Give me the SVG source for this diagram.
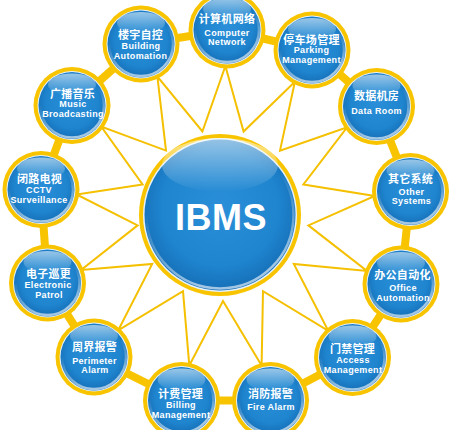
<svg xmlns="http://www.w3.org/2000/svg" width="450" height="430" viewBox="0 0 450 430">
<defs>
<radialGradient id="blue" cx="50%" cy="45%" r="55%">
<stop offset="0" stop-color="#2a8fd8"/>
<stop offset="0.7" stop-color="#1f85cf"/>
<stop offset="1" stop-color="#156fb7"/>
</radialGradient>
<linearGradient id="gloss" x1="0" y1="0" x2="0" y2="1">
<stop offset="0" stop-color="#ffffff" stop-opacity="0.55"/>
<stop offset="1" stop-color="#ffffff" stop-opacity="0"/>
</linearGradient>
<linearGradient id="rimlight" x1="0" y1="0" x2="0.3" y2="1">
<stop offset="0.45" stop-color="#ffffff" stop-opacity="0"/>
<stop offset="1" stop-color="#ffffff" stop-opacity="0.6"/>
</linearGradient>
<style>
.ring{fill:#f8c400}
.rim{fill:#e6f2fb}
.ball{fill:url(#blue)}
.gl{fill:url(#gloss)}
.rl{fill:none;stroke:url(#rimlight);stroke-width:2.5}
.cn{font-family:"Liberation Sans","Noto Sans CJK SC",sans-serif;font-weight:700;font-size:11px;fill:#fff;text-anchor:middle;letter-spacing:0.3px}
.en{font-family:"Liberation Sans",Arial,sans-serif;font-weight:700;font-size:9px;fill:#fff;text-anchor:middle;letter-spacing:0.35px}
.band{fill:none;stroke:#f8c400;stroke-width:8;stroke-linejoin:round}
.star{fill:none;stroke:#f5c000;stroke-width:2;stroke-linejoin:miter}
</style>
</defs>
<rect width="450" height="430" fill="#fff"/>
<g id="connectors">
<polygon class="band" points="227,30 312,50 376.5,106.5 410.5,191.5 401,284 352.5,357.5 270.5,400.5 181.5,400.5 94,357 47.5,283 41,189.5 72,105.5 141,44"/>
<polygon class="star" points="225.4,66 243.6,131.5 294.9,81.7 280,150.6 347.1,127.3 303.4,184.5 374.8,196 308.4,225.4 367,271 293.8,263.9 328.3,330.9 263,291.2 261.6,365.6 223,301 189.3,365.4 183,291.2 118.2,330.4 152.2,263.9 81.1,270 137.6,225.4 76.6,194.5 142.6,184.5 101.2,126.6 166,150.6 157.4,76.5 202.4,131.5"/>
</g>
<g id="ibms">
<circle class="ring" cx="220" cy="215" r="81"/>
<circle class="rim" cx="220" cy="215" r="77"/>
<circle class="ball" cx="220" cy="215" r="75.5"/>
<ellipse class="gl" cx="220" cy="165" rx="58" ry="27"/>
<circle class="rl" cx="220" cy="215" r="73.5"/>
<text x="221" y="230" style="font-family:'Liberation Sans',Arial,sans-serif;font-weight:700;font-size:36px;fill:#fff;text-anchor:middle;letter-spacing:0.5px">IBMS</text>
</g>
<g id="n-computer">
<circle class="ring" cx="227" cy="30" r="38.5"/><circle class="rim" cx="227" cy="30" r="34.5"/><circle class="ball" cx="227" cy="30" r="33.5"/><ellipse class="gl" cx="227" cy="9" rx="24" ry="11"/><circle class="rl" cx="227" cy="30" r="32"/>
<text class="cn" x="227" y="22.5">计算机网络</text><text class="en" x="227" y="35.8">Computer</text><text class="en" x="227" y="44.8">Network</text>
</g>
<g id="n-parking">
<circle class="ring" cx="312" cy="50" r="38.5"/><circle class="rim" cx="312" cy="50" r="34.5"/><circle class="ball" cx="312" cy="50" r="33.5"/><ellipse class="gl" cx="312" cy="29" rx="24" ry="11"/><circle class="rl" cx="312" cy="50" r="32"/>
<text class="cn" x="311.5" y="43.5">停车场管理</text><text class="en" x="311.5" y="53.2">Parking</text><text class="en" x="311.5" y="63.2">Management</text>
</g>
<g id="n-dataroom">
<circle class="ring" cx="376.5" cy="106.5" r="38.5"/><circle class="rim" cx="376.5" cy="106.5" r="34.5"/><circle class="ball" cx="376.5" cy="106.5" r="33.5"/><ellipse class="gl" cx="376.5" cy="85.5" rx="24" ry="11"/><circle class="rl" cx="376.5" cy="106.5" r="32"/>
<text class="cn" x="376.5" y="100">数据机房</text><text class="en" x="376.5" y="113.8">Data Room</text>
</g>
<g id="n-other">
<circle class="ring" cx="410.5" cy="191.5" r="38.5"/><circle class="rim" cx="410.5" cy="191.5" r="34.5"/><circle class="ball" cx="410.5" cy="191.5" r="33.5"/><ellipse class="gl" cx="410.5" cy="170.5" rx="24" ry="11"/><circle class="rl" cx="410.5" cy="191.5" r="32"/>
<text class="cn" x="410.5" y="182.5">其它系统</text><text class="en" x="411.5" y="194.8">Other</text><text class="en" x="411.5" y="203.8">Systems</text>
</g>
<g id="n-office">
<circle class="ring" cx="401" cy="284" r="38.5"/><circle class="rim" cx="401" cy="284" r="34.5"/><circle class="ball" cx="401" cy="284" r="33.5"/><ellipse class="gl" cx="401" cy="263" rx="24" ry="11"/><circle class="rl" cx="401" cy="284" r="32"/>
<text class="cn" x="402.5" y="278.5">办公自动化</text><text class="en" x="403" y="290.8">Office</text><text class="en" x="403" y="300.8">Automation</text>
</g>
<g id="n-access">
<circle class="ring" cx="352.5" cy="357.5" r="38.5"/><circle class="rim" cx="352.5" cy="357.5" r="34.5"/><circle class="ball" cx="352.5" cy="357.5" r="33.5"/><ellipse class="gl" cx="352.5" cy="336.5" rx="24" ry="11"/><circle class="rl" cx="352.5" cy="357.5" r="32"/>
<text class="cn" x="352.5" y="352.5">门禁管理</text><text class="en" x="353" y="363.2">Access</text><text class="en" x="353" y="373.2">Management</text>
</g>
<g id="n-fire">
<circle class="ring" cx="270.5" cy="400.5" r="38.5"/><circle class="rim" cx="270.5" cy="400.5" r="34.5"/><circle class="ball" cx="270.5" cy="400.5" r="33.5"/><ellipse class="gl" cx="270.5" cy="379.5" rx="24" ry="11"/><circle class="rl" cx="270.5" cy="400.5" r="32"/>
<text class="cn" x="270.5" y="397.5">消防报警</text><text class="en" x="271" y="409.8">Fire Alarm</text>
</g>
<g id="n-billing">
<circle class="ring" cx="181.5" cy="400.5" r="38.5"/><circle class="rim" cx="181.5" cy="400.5" r="34.5"/><circle class="ball" cx="181.5" cy="400.5" r="33.5"/><ellipse class="gl" cx="181.5" cy="379.5" rx="24" ry="11"/><circle class="rl" cx="181.5" cy="400.5" r="32"/>
<text class="cn" x="180.5" y="397.5">计费管理</text><text class="en" x="181" y="407.5">Billing</text><text class="en" x="181" y="417.5">Management</text>
</g>
<g id="n-perimeter">
<circle class="ring" cx="94" cy="357" r="38.5"/><circle class="rim" cx="94" cy="357" r="34.5"/><circle class="ball" cx="94" cy="357" r="33.5"/><ellipse class="gl" cx="94" cy="336" rx="24" ry="11"/><circle class="rl" cx="94" cy="357" r="32"/>
<text class="cn" x="94.5" y="351">周界报警</text><text class="en" x="94.5" y="363.8">Perimeter</text><text class="en" x="95" y="373.2">Alarm</text>
</g>
<g id="n-patrol">
<circle class="ring" cx="47.5" cy="283" r="38.5"/><circle class="rim" cx="47.5" cy="283" r="34.5"/><circle class="ball" cx="47.5" cy="283" r="33.5"/><ellipse class="gl" cx="47.5" cy="262" rx="24" ry="11"/><circle class="rl" cx="47.5" cy="283" r="32"/>
<text class="cn" x="48.5" y="277.5">电子巡更</text><text class="en" x="48" y="288.2">Electronic</text><text class="en" x="49" y="298.2">Patrol</text>
</g>
<g id="n-cctv">
<circle class="ring" cx="41" cy="189.5" r="38.5"/><circle class="rim" cx="41" cy="189.5" r="34.5"/><circle class="ball" cx="41" cy="189.5" r="33.5"/><ellipse class="gl" cx="41" cy="168.5" rx="24" ry="11"/><circle class="rl" cx="41" cy="189.5" r="32"/>
<text class="cn" x="39.5" y="182.5">闭路电视</text><text class="en" x="39" y="193.2">CCTV</text><text class="en" x="39" y="203.2">Surveillance</text>
</g>
<g id="n-music">
<circle class="ring" cx="72" cy="105.5" r="38.5"/><circle class="rim" cx="72" cy="105.5" r="34.5"/><circle class="ball" cx="72" cy="105.5" r="33.5"/><ellipse class="gl" cx="72" cy="84.5" rx="24" ry="11"/><circle class="rl" cx="72" cy="105.5" r="32"/>
<text class="cn" x="72.5" y="97.5">广播音乐</text><text class="en" x="73" y="107.2">Music</text><text class="en" x="73" y="117.2">Broadcasting</text>
</g>
<g id="n-building">
<circle class="ring" cx="141" cy="44" r="38.5"/><circle class="rim" cx="141" cy="44" r="34.5"/><circle class="ball" cx="141" cy="44" r="33.5"/><ellipse class="gl" cx="141" cy="23" rx="24" ry="11"/><circle class="rl" cx="141" cy="44" r="32"/>
<text class="cn" x="140.5" y="38.5">楼宇自控</text><text class="en" x="141" y="48.8">Building</text><text class="en" x="140.5" y="58.8">Automation</text>
</g>
</svg>
